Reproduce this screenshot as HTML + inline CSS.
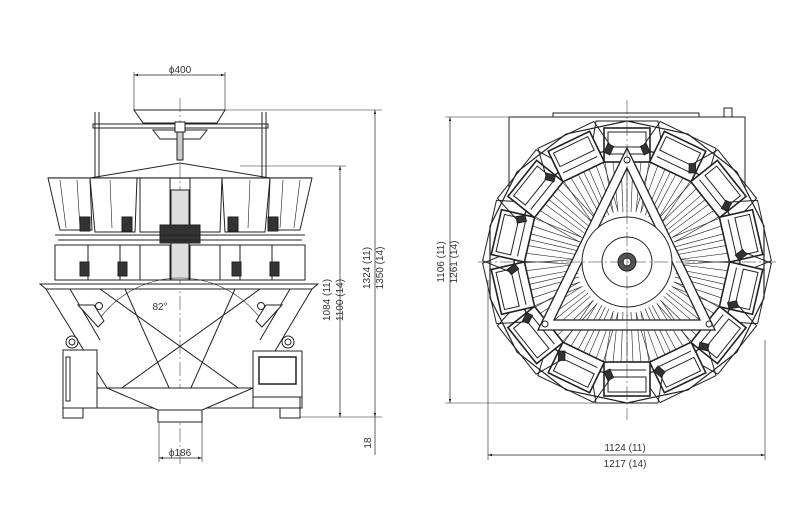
<!DOCTYPE html>
<html><head><meta charset="utf-8"><style>
html,body{margin:0;padding:0;background:#fff;}
svg{display:block;}
text{font-family:"Liberation Sans",sans-serif;font-size:10px;fill:#333;}
</style></head><body>
<svg width="800" height="526" viewBox="0 0 800 526" xmlns="http://www.w3.org/2000/svg">
<defs>
<marker id="ar" viewBox="0 0 10 10" refX="10" refY="5" markerWidth="6" markerHeight="6" orient="auto-start-reverse"><path d="M0,2 L10,5 L0,8 z" fill="#222"/></marker>
<g id="bk" stroke="#222" stroke-width="1" fill="#fff">
<path d="M-36,-110 L-31,-141 L31,-141 L36,-110 Z" fill="none"/>
<g stroke-width="0.6">
<line x1="-14" y1="-50" x2="-22" y2="-100"/><line x1="-9" y1="-50" x2="-14" y2="-100"/><line x1="-4" y1="-50" x2="-6" y2="-100"/><line x1="4" y1="-50" x2="6" y2="-100"/><line x1="9" y1="-50" x2="14" y2="-100"/><line x1="14" y1="-50" x2="22" y2="-100"/><line x1="0" y1="-50" x2="0" y2="-100"/>
</g>
<rect x="-23" y="-134" width="46" height="34" stroke-width="1.6"/>
<rect x="-19" y="-130" width="38" height="15"/>
<line x1="-19" y1="-108" x2="19" y2="-108"/>
<path d="M-31,-104 l-7,-6 l4,-5 l7,6z" fill="#333"/>
<path d="M31,-104 l7,-6 l-4,-5 l-7,6z" fill="#333"/>
</g>
</defs>

<!-- ============ LEFT VIEW ============ -->
<g stroke="#222" fill="none" stroke-width="1">
<line x1="134" y1="72" x2="134" y2="110" stroke-width="0.6"/>
<line x1="225" y1="72" x2="225" y2="110" stroke-width="0.6"/>
<line x1="134" y1="75" x2="225" y2="75" stroke-width="0.7" marker-start="url(#ar)" marker-end="url(#ar)"/>
<line x1="180" y1="98" x2="180" y2="465" stroke-width="0.5" stroke-dasharray="14,3,2,3"/>
<path d="M134,110 L225,110 L217,123 L143,123 Z"/>
<path d="M153,130 L207,130 L200,139 L160,139 Z"/>
<rect x="93" y="124" width="175" height="4"/>
<line x1="95" y1="112" x2="95" y2="178"/><line x1="99" y1="112" x2="99" y2="178"/>
<line x1="262" y1="112" x2="262" y2="178"/><line x1="266" y1="112" x2="266" y2="178"/>
<rect x="175" y="122" width="10" height="10" fill="#fff"/>
<rect x="177" y="132" width="6" height="28" fill="#ccc"/>
<path d="M90,178 L180,163 L270,178"/>
<path d="M48,178 L312,178" stroke-width="1.2"/>
<g fill="#fff">
<path d="M48,178 L90,178 L92,230 L60,230 Z"/>
<path d="M90,178 L137,178 L135,232 L95,232 Z"/>
<path d="M140,178 L170,178 L170,232 L140,232 Z"/>
<path d="M190,178 L222,178 L220,232 L190,232 Z"/>
<path d="M222,178 L270,178 L265,232 L225,232 Z"/>
<path d="M270,178 L312,178 L300,230 L268,230 Z"/>
<rect x="171" y="190" width="18" height="90" fill="#ddd"/>
</g>
<g stroke-width="0.6">
<line x1="60" y1="180" x2="66" y2="228"/><line x1="77" y1="180" x2="80" y2="228"/>
<line x1="110" y1="180" x2="112" y2="228"/><line x1="250" y1="180" x2="248" y2="228"/>
<line x1="283" y1="180" x2="280" y2="228"/><line x1="300" y1="180" x2="294" y2="228"/>
</g>
<g fill="#333">
<rect x="80" y="217" width="10" height="14"/><rect x="122" y="217" width="10" height="14"/>
<rect x="228" y="217" width="10" height="14"/><rect x="268" y="217" width="10" height="14"/>
<rect x="160" y="225" width="40" height="18"/>
</g>
<line x1="55" y1="235" x2="305" y2="235"/><line x1="58" y1="240" x2="302" y2="240"/>
<g fill="#fff">
<rect x="55" y="245" width="33" height="35"/><rect x="88" y="245" width="32" height="35"/>
<rect x="120" y="245" width="20" height="35"/><rect x="140" y="245" width="30" height="35"/>
<rect x="190" y="245" width="30" height="35"/><rect x="220" y="245" width="20" height="35"/>
<rect x="240" y="245" width="32" height="35"/><rect x="272" y="245" width="33" height="35"/>
</g>
<g fill="#333">
<rect x="80" y="262" width="9" height="14"/><rect x="118" y="262" width="9" height="14"/>
<rect x="232" y="262" width="9" height="14"/><rect x="270" y="262" width="9" height="14"/>
</g>
<path d="M40,284 L318,284 L312,289 L46,289 Z" fill="#fff"/>
<path d="M46,289 L107,388"/><path d="M312,289 L253,388"/>
<path d="M100,289 L255,400"/><path d="M260,289 L105,400"/>
<path d="M125,289 L170,390"/><path d="M235,289 L190,390"/>
<path d="M70,289 L100,340"/><path d="M290,289 L260,340"/>
<path d="M100,318 a100,100 0 0 1 160,0" stroke-width="0.6"/>
<path d="M78,305 l20,22 l6,-6 l-10,-16z" fill="#fff"/><circle cx="99" cy="306" r="3.5"/>
<path d="M282,305 l-20,22 l-6,-6 l10,-16z" fill="#fff"/><circle cx="261" cy="306" r="3.5"/>
<rect x="97" y="388" width="203" height="20" fill="#fff"/>
<path d="M107,388 L253,388 L202,410 L158,410 Z" fill="#fff"/>
<rect x="158" y="410" width="44" height="12" fill="#fff"/>
<rect x="63" y="350" width="34" height="58" fill="#fff"/>
<rect x="66" y="357" width="4" height="44"/>
<circle cx="72" cy="342" r="6"/><circle cx="72" cy="342" r="3"/>
<rect x="63" y="408" width="20" height="10"/>
<rect x="253" y="351" width="49" height="46" fill="#fff"/>
<rect x="259" y="357" width="37" height="27" stroke-width="1.5"/>
<circle cx="288" cy="342" r="6"/><circle cx="288" cy="342" r="3"/>
<rect x="253" y="397" width="49" height="11"/>
<rect x="280" y="408" width="20" height="10"/>
<line x1="159" y1="422" x2="159" y2="462" stroke-width="0.6"/>
<line x1="202" y1="422" x2="202" y2="462" stroke-width="0.6"/>
<line x1="159" y1="458" x2="202" y2="458" stroke-width="0.7" marker-start="url(#ar)" marker-end="url(#ar)"/>
<line x1="225" y1="110" x2="382" y2="110" stroke-width="0.6"/>
<line x1="240" y1="166" x2="346" y2="166" stroke-width="0.6"/>
<line x1="300" y1="417" x2="382" y2="417" stroke-width="0.6"/>
<line x1="340" y1="166" x2="340" y2="417" stroke-width="0.7" marker-start="url(#ar)" marker-end="url(#ar)"/>
<line x1="375" y1="110" x2="375" y2="417" stroke-width="0.7" marker-start="url(#ar)" marker-end="url(#ar)"/>
<line x1="375" y1="417" x2="375" y2="455" stroke-width="0.7"/>
</g>
<text x="180" y="73" text-anchor="middle">ϕ400</text>
<text x="160" y="310" text-anchor="middle">82°</text>
<text x="180" y="456" text-anchor="middle">ϕ186</text>
<text transform="translate(330,300) rotate(-90)" text-anchor="middle">1084 (11)</text>
<text transform="translate(343,300) rotate(-90)" text-anchor="middle">1100 (14)</text>
<text transform="translate(370,268) rotate(-90)" text-anchor="middle">1324 (11)</text>
<text transform="translate(383,268) rotate(-90)" text-anchor="middle">1350 (14)</text>
<text transform="translate(371,443) rotate(-90)" text-anchor="middle">18</text>

<!-- ============ RIGHT VIEW ============ -->
<g stroke="#222" fill="none" stroke-width="1">
<rect x="509" y="117" width="236" height="160" fill="#fff"/>
<rect x="553" y="113" width="146" height="4"/>
<rect x="724" y="108" width="8" height="9"/>
<polygon points="627,121 688,134 737,172 764,226 764,298 737,352 688,390 627,403 566,390 517,352 490,298 490,226 517,172 566,134" fill="#fff" stroke-width="1.2"/>
<g transform="translate(627,262)">
<use href="#bk" transform="rotate(0)"/><use href="#bk" transform="rotate(25.7)"/><use href="#bk" transform="rotate(51.4)"/><use href="#bk" transform="rotate(77.1)"/><use href="#bk" transform="rotate(102.9)"/><use href="#bk" transform="rotate(128.6)"/><use href="#bk" transform="rotate(154.3)"/><use href="#bk" transform="rotate(180)"/><use href="#bk" transform="rotate(205.7)"/><use href="#bk" transform="rotate(231.4)"/><use href="#bk" transform="rotate(257.1)"/><use href="#bk" transform="rotate(282.9)"/><use href="#bk" transform="rotate(308.6)"/><use href="#bk" transform="rotate(334.3)"/>
</g>
<path d="M627,148 L715,330 L538,330 Z M627,168 L700,320 L554,320 Z" fill="#fff" fill-rule="evenodd" stroke-width="1.3"/>
<circle cx="627" cy="262" r="45" fill="#fff"/>
<circle cx="627" cy="262" r="25"/>
<circle cx="627" cy="262" r="9" fill="#555"/>
<circle cx="627" cy="262" r="4" fill="#fff"/>
<circle cx="627" cy="160" r="3"/><circle cx="545" cy="324" r="3"/><circle cx="709" cy="324" r="3"/>
<line x1="627" y1="100" x2="627" y2="420" stroke-width="0.5" stroke-dasharray="14,3,2,3"/>
<line x1="478" y1="262" x2="776" y2="262" stroke-width="0.5" stroke-dasharray="14,3,2,3"/>
<line x1="445" y1="117" x2="510" y2="117" stroke-width="0.6"/>
<line x1="445" y1="403" x2="600" y2="403" stroke-width="0.6"/>
<line x1="450" y1="117" x2="450" y2="403" stroke-width="0.7" marker-start="url(#ar)" marker-end="url(#ar)"/>
<line x1="488" y1="280" x2="488" y2="460" stroke-width="0.6"/>
<line x1="765" y1="340" x2="765" y2="460" stroke-width="0.6"/>
<line x1="488" y1="455" x2="765" y2="455" stroke-width="0.7" marker-start="url(#ar)" marker-end="url(#ar)"/>
</g>
<text transform="translate(444,262) rotate(-90)" text-anchor="middle">1106 (11)</text>
<text transform="translate(457,262) rotate(-90)" text-anchor="middle">1261 (14)</text>
<text x="625" y="451" text-anchor="middle">1124 (11)</text>
<text x="625" y="467" text-anchor="middle">1217 (14)</text>
</svg>
</body></html>
